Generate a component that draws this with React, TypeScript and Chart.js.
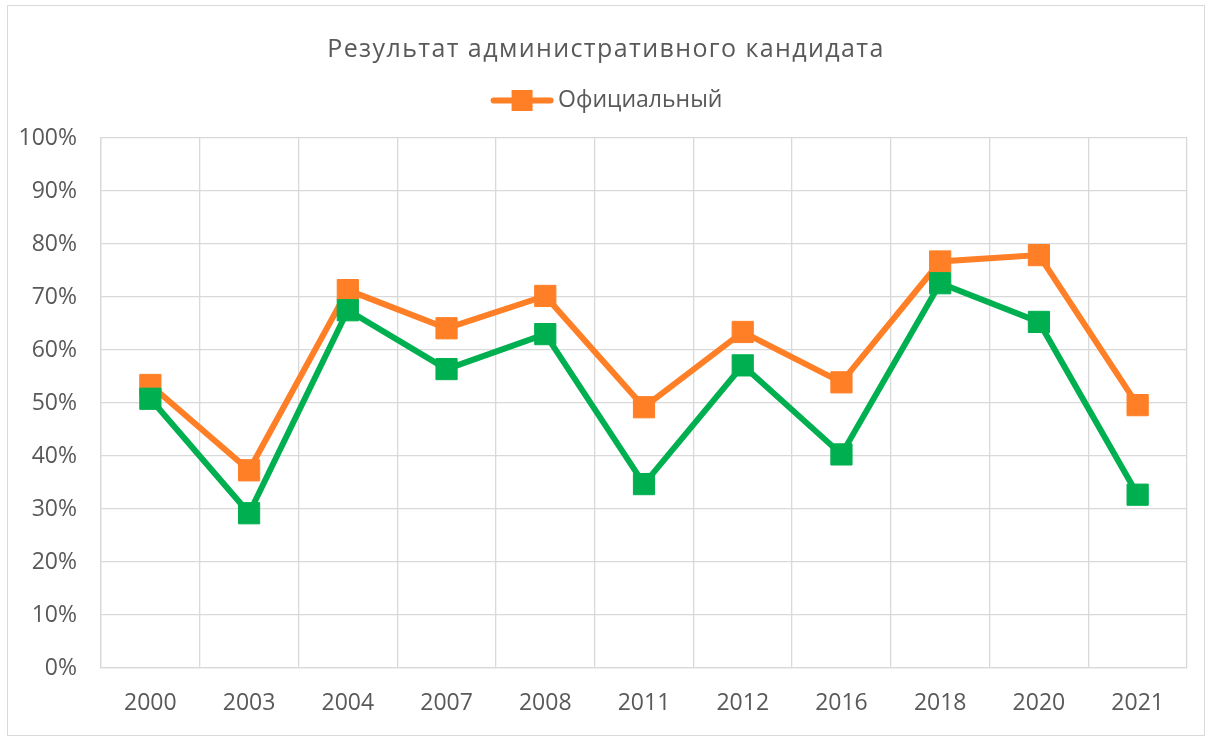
import React, { useEffect, useRef } from "react";
import { Chart, registerables } from "chart.js";

Chart.register(...registerables);

const years = ["2000", "2003", "2004", "2007", "2008", "2011", "2012", "2016", "2018", "2020", "2021"];
const officialValues = [53.4, 37.3, 71.3, 64.1, 70.2, 49.2, 63.4, 53.9, 76.7, 77.9, 49.6];
const otherValues = [50.8, 29.2, 67.5, 56.4, 63.0, 34.7, 57.1, 40.3, 72.6, 65.3, 32.7];
const titleText = "Результат административного кандидата";
const officialLabel = "Официальный";
const otherLabel = "Альтернативный";

const ORANGE = "#FF7F27";
const GREEN = "#00B050";
const TEXT = "#595959";
const GRID = "#D9D9D9";
const FONT = "'Open Sans', sans-serif";

const tweaks = {
  id: "tweaks",
  beforeLayout(chart: any) {
    const lg = chart.legend;
    if (lg && !lg._patched) {
      const f = lg.fit;
      lg.fit = function (this: any) {
        f.call(this);
        this.height += 16;
      };
      lg._patched = true;
    }
    const tb = chart.titleBlock;
    if (tb && !tb._patched) {
      const d = tb.draw;
      tb.draw = function (this: any, ...args: any[]) {
        const ctx = this.ctx;
        const prev = ctx.letterSpacing;
        ctx.letterSpacing = "1.4px";
        d.apply(this, args);
        ctx.letterSpacing = prev || "0px";
      };
      tb._patched = true;
    }
  },
  afterDraw(chart: any) {
    const lg = chart.legend;
    if (!lg || !lg.legendHitBoxes) return;
    const ctx = chart.ctx;
    lg.legendHitBoxes.forEach((hb: any, i: number) => {
      const item = lg.legendItems[i];
      if (!item) return;
      const x0 = hb.left + 1;
      const x1 = hb.left + 64;
      const cy = hb.top + hb.height / 2;
      ctx.save();
      ctx.strokeStyle = item.strokeStyle;
      ctx.lineWidth = 6;
      ctx.lineCap = "round";
      ctx.beginPath();
      ctx.moveTo(x0 + 3, cy);
      ctx.lineTo(x1 - 3, cy);
      ctx.stroke();
      ctx.fillStyle = item.strokeStyle;
      const cx = (x0 + x1) / 2;
      ctx.fillRect(cx - 10.5, cy - 10.5, 21, 21);
      ctx.restore();
    });
  },
};

export default function App() {
  const ref = useRef<HTMLCanvasElement>(null);
  useEffect(() => {
    document.body.style.margin = "0";
    const chart = new Chart(ref.current!, {
      type: "line",
      data: {
        labels: years,
        datasets: [
          {
            label: otherLabel,
            data: otherValues,
            borderColor: GREEN,
            backgroundColor: GREEN,
            borderWidth: 6,
            pointStyle: "rect",
            pointRadius: 15,
            pointBorderWidth: 1,
            pointBackgroundColor: GREEN,
            pointBorderColor: GREEN,
            order: 0,
          },
          {
            label: officialLabel,
            data: officialValues,
            borderColor: ORANGE,
            backgroundColor: ORANGE,
            borderWidth: 6,
            pointStyle: "rect",
            pointRadius: 15,
            pointBorderWidth: 1,
            pointBackgroundColor: ORANGE,
            pointBorderColor: ORANGE,
            order: 1,
          },
        ],
      },
      options: {
        animation: false,
        responsive: true,
        maintainAspectRatio: false,
        layout: { padding: { left: 0, right: 0, top: 0, bottom: 0 } },
        plugins: {
          tooltip: { enabled: false },
          title: {
            display: true,
            text: titleText,
            color: TEXT,
            font: { family: FONT, size: 25, weight: "normal" },
            padding: { top: 29, bottom: 14 },
          },
          legend: {
            display: true,
            position: "top",
            labels: {
              filter: (item: any) => item.text === officialLabel,
              color: TEXT,
              font: { family: FONT, size: 23 },
              boxWidth: 57,
              boxHeight: 6,
              padding: 10,
              generateLabels: (chart: any) =>
                chart.data.datasets.map((ds: any, i: number) => ({
                  text: ds.label,
                  fillStyle: "rgba(0,0,0,0)",
                  strokeStyle: ds.borderColor,
                  lineWidth: 0,
                  hidden: false,
                  datasetIndex: i,
                  fontColor: TEXT,
                })),
            },
          },
        },
        scales: {
          x: {
            type: "category",
            offset: true,
            grid: { offset: true, color: GRID, lineWidth: 1.3, drawTicks: false },
            border: { color: GRID, width: 1.3 },
            ticks: { color: TEXT, font: { family: FONT, size: 23 }, padding: 22, maxRotation: 0 },
            afterFit: (s: any) => {
              s.height = 67;
            },
          },
          y: {
            min: 0,
            max: 100,
            grid: { color: GRID, lineWidth: 1.3, drawTicks: false },
            border: { color: GRID, width: 1.3 },
            ticks: {
              stepSize: 10,
              color: TEXT,
              font: { family: FONT, size: 23 },
              padding: 24,
              callback: (v: any) => v + "%",
            },
            afterFit: (s: any) => {
              s.width = 93;
            },
          },
          yRightSpacer: {
            type: "linear",
            position: "right",
            display: true,
            grid: { display: false, drawOnChartArea: false, drawTicks: false },
            border: { display: false },
            ticks: { display: false },
            afterFit: (s: any) => {
              s.width = 17;
            },
          },
        },
      },
      plugins: [tweaks],
    });
    return () => chart.destroy();
  }, []);

  return (
    <div style={{ position: "relative", width: 1212, height: 742, background: "#fff" }}>
      <div
        style={{
          position: "absolute",
          left: 7,
          top: 5,
          width: 1198,
          height: 731,
          border: "1px solid #D9D9D9",
          boxSizing: "border-box",
        }}
      >
        <div style={{ position: "relative", width: 1196, height: 729 }}>
          <canvas ref={ref} />
        </div>
      </div>
    </div>
  );
}
